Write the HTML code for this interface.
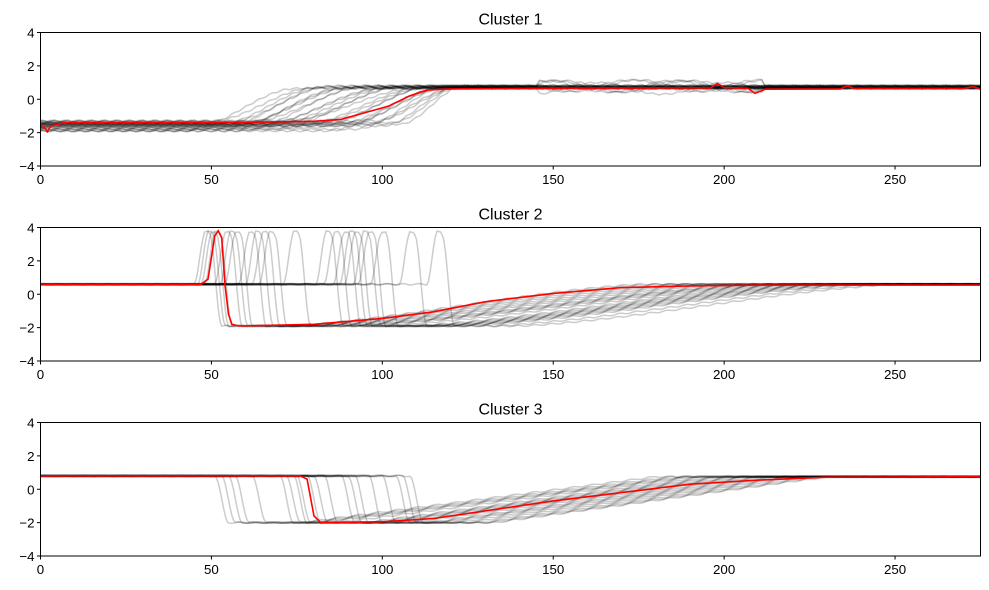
<!DOCTYPE html>
<html><head><meta charset="utf-8"><style>
body{margin:0;background:#fff}
svg{display:block;font-family:"Liberation Sans",sans-serif}
</style></head><body>
<svg id="c" width="989" height="590" viewBox="0 0 989 590"></svg>
<script>
// ---- data ----
const xTicks=[0,50,100,150,200,250];
const yTicks=[4,2,0,-2,-4];
const panelTitles=["Cluster 1","Cluster 2","Cluster 3"];
const c1RiseStart=[42,50,52,53,54,55,56,57,58,60,62,64,66,68,70,72,75,78,80,82,84,86,88,90,92,95,98,100,103,105];
const c1RiseEnd=[75,80,82,84,86,88,90,92,95,97,100,102,104,106,108,110,112,114,115,116,117,118,119,120,120,121,122,122,123,124];
const c1StartLevel=[-1.9,-1.3,-1.5,-1.7,-1.4,-1.8,-1.6,-1.5,-1.9,-1.4,-1.7,-1.5,-1.6,-1.8,-1.4,-1.3,-1.6,-1.5,-1.7,-1.4,-1.9,-1.5,-1.6,-1.4,-1.8,-1.5,-1.3,-1.6,-1.4,-1.5];
const c1Wiggle=[0,0,0,0,0,1,0,0,0,1,0,0,0,0,1,0,0,0,1,0,0,0,0,1,0,0,0,0,1,0];
const c1Mean=[[0,-1.7],[1,-1.65],[2,-1.95],[3,-1.6],[5,-1.5],[7,-1.4],[40,-1.38],[60,-1.38],[80,-1.32],[88,-1.2],[95,-0.8],[102,-0.4],[108,0.2],[113,0.55],[120,0.62],[150,0.66],[196,0.68],[198,0.95],[200,0.7],[207,0.65],[209,0.35],[212,0.6],[234,0.62],[236,0.8],[238,0.65],[270,0.65],[273,0.75],[275,0.6]];
const c2Spike=[48,49,50,51,54,55.5,57,61,63,65,67,74,83.5,86,88.7,90.5,92,94.5,96,99.6,108,116];
const c2Recover=[175,180,185,190,195,200,205,210,212,215,218,220,222,225,228,230,232,235,238,240,245,250];
const c2Mean=[[0,0.6],[47,0.6],[49,0.9],[50,2.2],[51,3.5],[52,3.8],[53,3.4],[54,0.5],[55,-1.2],[56,-1.8],[58,-1.9],[80,-1.8],[100,-1.45],[115,-1.05],[130,-0.45],[150,0.05],[170,0.4],[190,0.5],[210,0.55],[275,0.55]];
const c3Drop=[51,53,55,57,62,70,72,74,75,78,80,83,88,90,92,96,100,104,106,108];
const c3Recover=[180,185,188,190,192,195,198,200,203,205,207,210,212,215,218,220,222,225,228,230];
const c3Mean=[[0,0.8],[76,0.8],[78,0.6],[80,-1.6],[82,-2.0],[100,-1.95],[115,-1.75],[130,-1.3],[150,-0.7],[170,-0.2],[190,0.3],[210,0.55],[230,0.72],[275,0.75]];

// ---- layout ----
const NS="http://www.w3.org/2000/svg";
const svg=document.getElementById('c');
const panels=[{top:32.5,bot:166},{top:227.5,bot:361},{top:422.5,bot:556}];
const L=40.5,R=980.5,XMAX=275;
function sx(v){return L+v/XMAX*(R-L);}
function mk(tag,attrs,parent){const e=document.createElementNS(NS,tag);for(const k in attrs)e.setAttribute(k,attrs[k]);(parent||svg).appendChild(e);return e;}
function lerp(a,b,t){return a+(b-a)*t;}
function smooth(t){t=Math.max(0,Math.min(1,t));return t*t*(3-2*t);}

function c1Trace(i){
  const pts=[];const s=c1RiseStart[i],e=c1RiseEnd[i],y0=c1StartLevel[i],y1=0.65+(i%5)*0.04;
  for(let x=0;x<=XMAX;x+=1){
    let y=x<s?y0:(x>e?y1:lerp(y0,y1,smooth((x-s)/(e-s))));
    if(c1Wiggle[i]&&x>145&&x<212)y+=0.35*Math.sin((x+i*7)/6);
    y+=0.05*Math.sin(x*1.7+i);
    pts.push([x,y]);
  }return pts;
}
function c2Trace(i){
  const pts=[];const s=c2Spike[i],r=c2Recover[i];
  for(let x=0;x<=XMAX;x+=0.5){
    let y;
    if(x<s-3)y=0.6;
    else if(x<s)y=lerp(0.6,3.6,smooth((x-(s-3))/3));
    else if(x<s+1.5)y=3.75;
    else if(x<s+5)y=lerp(3.6,-1.9,smooth((x-s-1.5)/3.5));
    else if(x<s+25)y=-1.9;
    else if(x<r)y=lerp(-1.9,0.6,smooth((x-s-25)/(r-s-25))*0.5+((x-s-25)/(r-s-25))*0.5);
    else y=0.6;
    y+=0.04*Math.sin(x*1.3+i);
    pts.push([x,y]);
  }return pts;
}
function c3Trace(i){
  const pts=[];const d=c3Drop[i],r=c3Recover[i];
  for(let x=0;x<=XMAX;x+=0.5){
    let y;
    if(x<d)y=0.8;
    else if(x<d+4)y=lerp(0.8,-2.0,smooth((x-d)/4));
    else if(x<d+25)y=-2.0;
    else if(x<r)y=lerp(-2.0,0.75,(x-d-25)/(r-d-25));
    else y=0.75;
    y+=0.04*Math.sin(x*1.1+i);
    pts.push([x,y]);
  }return pts;
}

panels.forEach((p,pi)=>{
  const g=mk('g',{});
  
  
  const sy=v=>p.top+(4-v)/8*(p.bot-p.top);
  const clip=mk('clipPath',{id:'cl'+pi},g);mk('rect',{x:L,y:p.top,width:R-L,height:p.bot-p.top},clip);
  const lines=mk('g',{'clip-path':'url(#cl'+pi+')'},g);
  let traces=[];
  if(pi===0)traces=c1RiseStart.map((_,i)=>c1Trace(i));
  if(pi===1)traces=c2Spike.map((_,i)=>c2Trace(i));
  if(pi===2)traces=c3Drop.map((_,i)=>c3Trace(i));
  traces.forEach((t,i)=>{
    const pl=mk('polyline',{points:t.map(q=>sx(q[0]).toFixed(1)+','+sy(q[1]).toFixed(1)).join(' '),fill:'none',stroke:'#000','stroke-opacity':0.2,'stroke-width':1.5},lines);
    
    
  });
  const mean=[c1Mean,c2Mean,c3Mean][pi];
  const ml=mk('polyline',{points:mean.map(q=>sx(q[0]).toFixed(1)+','+sy(q[1]).toFixed(1)).join(' '),fill:'none',stroke:'#ff0000','stroke-width':1.6},lines);
  
  
  const fr=mk('rect',{x:L,y:p.top,width:R-L,height:p.bot-p.top,fill:'none',stroke:'#000','stroke-width':1},g);
  
  
  xTicks.forEach(v=>{
    mk('line',{x1:sx(v),x2:sx(v),y1:p.bot,y2:p.bot+3.5,stroke:'#000'},g);
    const t=mk('text',{x:sx(v),y:p.bot+18,'text-anchor':'middle','font-size':13.3,fill:'#000'},g);t.textContent=v;
    
    
  });
  yTicks.forEach(v=>{
    mk('line',{x1:L-3.5,x2:L,y1:sy(v),y2:sy(v),stroke:'#000'},g);
    const t=mk('text',{x:L-6,y:sy(v)+5,'text-anchor':'end','font-size':13.3,fill:'#000'},g);t.textContent=v<0?'\u2212'+(-v):v;
    
    
  });
  const tt=mk('text',{x:(L+R)/2,y:p.top-8,'text-anchor':'middle','font-size':16,fill:'#000'},g);tt.textContent=panelTitles[pi];
  
  
});
</script>
</body></html>
